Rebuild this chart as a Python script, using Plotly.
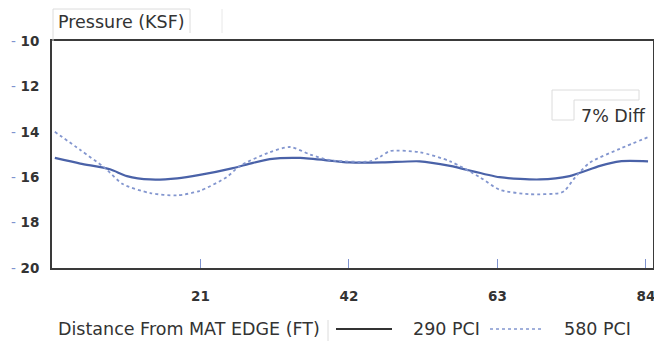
import plotly.graph_objects as go

# Data
x_290 = [0.4, 4, 8.2, 10.6, 13.9, 17.7, 20.9, 25.6, 28.0, 30.8, 35.1, 42.1, 46.8, 52.0, 56.3, 63.3, 69.0, 73.2, 77.5, 80.3, 84.3]
y_290 = [15.15, 15.4, 15.65, 15.95, 16.1, 16.05, 15.9, 15.6, 15.4, 15.2, 15.15, 15.35, 15.35, 15.3, 15.5, 16.0, 16.1, 15.95, 15.5, 15.3, 15.3]

x_580 = [0.4, 4.0, 7.5, 10.0, 13.9, 17.7, 20.9, 24.7, 26.6, 30.8, 33.7, 36.5, 39.3, 45.0, 46.4, 47.8, 52.0, 56.3, 60.5, 63.3, 67.6, 71.8, 72.5, 74.0, 76.1, 80.3, 84.6]
y_580 = [14.0, 14.8, 15.6, 16.3, 16.7, 16.8, 16.6, 16.0, 15.5, 14.9, 14.67, 15.0, 15.25, 15.3, 15.1, 14.85, 14.9, 15.3, 16.0, 16.55, 16.75, 16.7, 16.6, 16.0, 15.35, 14.75, 14.2]

y_ticks = [10, 12, 14, 16, 18, 20]
x_ticks = [21, 42, 63, 84]

series_names = ["290 PCI", "580 PCI"]
title_text = "Pressure (KSF)"
x_title = "Distance From MAT EDGE (FT)"
note_text = "7% Diff"

FONT = "DejaVu Sans"
TXT = "#333333"
TICKBLUE = "#7f93cf"
BOX = "#dcdcdc"
BIG = 17.5

# page body has an 8px margin; plot area spans window px 52..653 (x), 41..268 (y)
def PX(px):
    return (px - 52) / 601.0

def PY(py):
    return (268 - py) / 227.0

fig = go.Figure()
fig.add_trace(go.Scatter(x=x_290, y=y_290, mode="lines", name=series_names[0],
                         line=dict(color="#4a62a8", width=2.2, shape="spline", smoothing=0.7)))
fig.add_trace(go.Scatter(x=x_580, y=y_580, mode="lines", name=series_names[1],
                         line=dict(color="#8396cf", width=1.8, dash="dot", shape="spline", smoothing=0.7)))

fig.update_layout(
    width=654, height=333,
    margin=dict(l=44, r=9, t=33, b=73, autoexpand=False),
    paper_bgcolor="white", plot_bgcolor="white",
    showlegend=False,
    font=dict(family=FONT, size=13, color=TXT),
)
fig.update_xaxes(
    range=[0, 85], tickvals=x_ticks, ticktext=[str(v) for v in x_ticks],
    ticks="inside", ticklen=9, tickcolor=TICKBLUE, tickwidth=1,
    showgrid=False, zeroline=False, automargin=False,
    showline=True, linecolor="#3a3a3a", linewidth=2, mirror=True,
    ticklabelstandoff=15,
    tickfont=dict(family=FONT, size=13.5, color=TXT, weight="bold"),
)
fig.update_yaxes(
    range=[20, 10], tickvals=y_ticks,
    ticktext=['<span style="color:%s;font-weight:normal">-</span> %d' % (TICKBLUE, v) for v in y_ticks],
    ticks="", showgrid=False, zeroline=False, automargin=False,
    showline=True, linecolor="#3a3a3a", linewidth=2, mirror=True,
    ticklabelstandoff=8,
    tickfont=dict(family=FONT, size=13.5, color=TXT, weight="bold"),
)

def hline(x0, x1, y, color=BOX, width=1, dash="solid"):
    fig.add_shape(type="line", xref="paper", yref="paper", x0=PX(x0), x1=PX(x1), y0=PY(y), y1=PY(y),
                  line=dict(color=color, width=width, dash=dash))

def vline(x, y0, y1, color=BOX, width=1):
    fig.add_shape(type="line", xref="paper", yref="paper", x0=PX(x), x1=PX(x), y0=PY(y0), y1=PY(y1),
                  line=dict(color=color, width=width))

def text(s, px, py, anchor="left"):
    fig.add_annotation(text=s, xref="paper", yref="paper", x=PX(px), y=PY(py),
                       xanchor=anchor, yanchor="middle", showarrow=False,
                       font=dict(family=FONT, size=BIG, color=TXT))

# Title with faint frame
text(title_text, 56, 22)
hline(53, 190, 9)
vline(53, 9, 41)
vline(190, 9, 33)
vline(222, 9, 33, color="#e8e8e8")

# 7% Diff note with faint frame
text(note_text, 579, 116)
hline(552, 639, 90)
vline(552, 90, 120)
hline(552, 574, 120)
vline(574, 100, 120)
hline(574, 639, 100)
vline(639, 90, 100)

# X axis title and custom legend along the bottom
text(x_title, 56, 329)
vline(328, 320, 341)
hline(336, 392, 329, color="#333333", width=2)
text(series_names[0], 411, 329)
hline(490, 541, 329, color="#8396cf", width=1.5, dash="dot")
text(series_names[1], 562, 329)

fig.write_html("out.html")
